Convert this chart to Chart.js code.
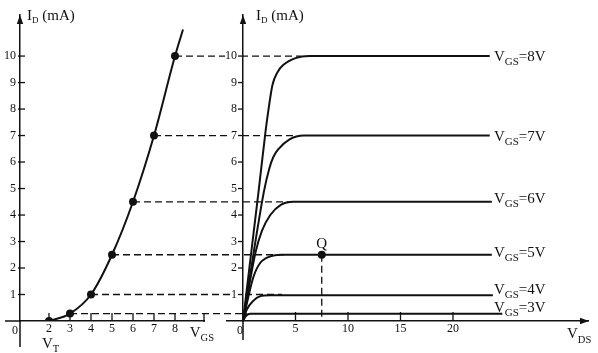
<!DOCTYPE html>
<html lang="en">
<head>
  <meta charset="UTF-8">
  <title>MOSFET transfer and output characteristics</title>
  <style>
    * { margin: 0; padding: 0; box-sizing: border-box; }
    body { background: #fff; width: 598px; height: 353px; overflow: hidden; }
    canvas { display: block; }
  </style>
  <script src="https://cdn.jsdelivr.net/npm/chart.js"></script>
</head>
<body>
  <canvas id="chart" width="598" height="353"></canvas>

  <script>
    // left panel: transfer curve I_D(V_GS)
    const vgsTicks = [2, 3, 4, 5, 6, 7, 8];
    const vgsDots = [2, 3, 4, 5, 6, 7, 8];
    const idDots = [0, 0.28, 1, 2.5, 4.5, 7, 10];
    const vgsCurve = [2, 3, 4, 5, 6, 7, 8, 8.38];
    const idCurve = [0, 0.28, 1, 2.5, 4.5, 7, 10, 11];

    // right panel: output curves I_D(V_DS)
    const vdsTicks = [0, 5, 10, 15, 20];
    const idTicks = [1, 2, 3, 4, 5, 6, 7, 8, 9, 10];
    const curveLabels = ["8V", "7V", "6V", "5V", "4V", "3V"];
    const vds8 = [0, 1.5, 2.1, 2.4, 2.8, 3.3, 3.8, 5.0, 6.3, 23.5];
    const id8 = [0, 4.95, 7, 7.9, 8.9, 9.4, 9.65, 9.92, 10, 10];
    const vds7 = [0, 2.0, 2.5, 2.9, 3.4, 4.4, 5.8, 23.5];
    const id7 = [0, 4.9, 5.75, 6.2, 6.5, 6.85, 7, 7];
    const vds6 = [0, 1.2, 1.8, 2.6, 3.6, 4.8, 23.7];
    const id6 = [0, 2.6, 3.4, 4.0, 4.38, 4.5, 4.5];
    const vds5 = [0, 0.5, 1.0, 1.6, 2.6, 3.6, 23.7];
    const id5 = [0, 0.9, 1.67, 2.17, 2.44, 2.5, 2.5];
    const vds4 = [0, 0.35, 1.0, 1.6, 2.6, 23.8];
    const id4 = [0, 0.42, 0.77, 0.93, 0.97, 0.97];
    const vds3 = [0, 0.3, 0.7, 24.7];
    const id3 = [0, 0.2, 0.27, 0.27];

    // where each dashed projection line stops on the right panel (per dot)
    const dashEndVds = [null, 0.4, 3.7, 3.9, 4.6, 5.0, 5.5];
    const qVds = [7.5];
    const qId = [2.5];

    const INK = "#111";
    const SERIF = "'Liberation Serif', 'Times New Roman', serif";
    const labelVds = 23.9;
    const labelDy = [5, 5, 1, 2, -1, -2];

    const pts = (xs, ys) => xs.map((v, i) => ({ x: v, y: ys[i] }));

    function curve(xs, ys, xAxis, yAxis) {
      return {
        data: pts(xs, ys),
        xAxisID: xAxis, yAxisID: yAxis,
        borderColor: INK, borderWidth: 2,
        pointRadius: 0, fill: false,
        cubicInterpolationMode: "monotone"
      };
    }

    const outputSets = [[vds8, id8], [vds7, id7], [vds6, id6], [vds5, id5], [vds4, id4], [vds3, id3]];

    const datasets = [
      curve(vgsCurve, idCurve, "x", "y"),
      {
        data: pts(vgsDots, idDots), xAxisID: "x", yAxisID: "y",
        showLine: false, pointRadius: 4, pointBackgroundColor: INK, pointBorderWidth: 0
      },
      ...outputSets.map(s => curve(s[0], s[1], "x2", "y2")),
      {
        data: [{ x: qVds[0], y: qId[0] }, { x: qVds[0], y: 0 }], xAxisID: "x2", yAxisID: "y2",
        borderColor: INK, borderWidth: 1.3, borderDash: [7, 4], pointRadius: 0
      },
      {
        data: pts(qVds, qId), xAxisID: "x2", yAxisID: "y2",
        showLine: false, pointRadius: 4, pointBackgroundColor: INK, pointBorderWidth: 0
      }
    ];

    // text with a subscript: parts = [[text, size, drop], ...]
    function subText(ctx, x, y, parts) {
      for (const [t, size, drop] of parts) {
        ctx.font = size + "px " + SERIF;
        ctx.fillText(t, x, y + drop);
        x += ctx.measureText(t).width;
      }
    }

    function line(ctx, x1, y1, x2, y2) {
      ctx.beginPath();
      ctx.moveTo(x1, y1);
      ctx.lineTo(x2, y2);
      ctx.stroke();
    }

    function arrow(ctx, tx, ty, dir) {
      ctx.beginPath();
      if (dir === "up") {
        ctx.moveTo(tx, ty); ctx.lineTo(tx - 3.2, ty + 9); ctx.lineTo(tx + 3.2, ty + 9);
      } else {
        ctx.moveTo(tx, ty); ctx.lineTo(tx - 9, ty - 3.2); ctx.lineTo(tx - 9, ty + 3.2);
      }
      ctx.closePath();
      ctx.fill();
    }

    const decor = {
      id: "decor",
      beforeDatasetsDraw(chart) {
        const { ctx, scales: { x, x2, y } } = chart;
        ctx.save();
        ctx.strokeStyle = INK;
        ctx.lineWidth = 1.3;
        ctx.setLineDash([7, 4]);
        vgsDots.forEach((v, i) => {
          if (dashEndVds[i] === null) return;
          const py = y.getPixelForValue(idDots[i]);
          line(ctx, x.getPixelForValue(v), py, x2.getPixelForValue(dashEndVds[i]), py);
        });
        ctx.restore();
      },
      afterDraw(chart) {
        const { ctx, chartArea: a, scales: { x, x2, y } } = chart;
        const ax2 = x2.getPixelForValue(0);
        const bottom = a.bottom;
        ctx.save();
        ctx.strokeStyle = INK;
        ctx.fillStyle = INK;
        ctx.lineWidth = 1.5;

        // axis stubs past the origin
        line(ctx, x.left - 15, bottom, x.left, bottom);
        line(ctx, x.left, bottom, x.left, bottom + 26);
        line(ctx, ax2, bottom, ax2, bottom + 19);

        // inward tick marks
        ctx.lineWidth = 1.3;
        vgsTicks.forEach(v => { const px = x.getPixelForValue(v); line(ctx, px, bottom, px, bottom - 8); });
        line(ctx, x.right, bottom + 1, x.right, bottom - 8);
        vdsTicks.forEach(v => { if (v === 0) return; const px = x2.getPixelForValue(v); line(ctx, px, bottom, px, bottom - 9); });
        idTicks.forEach(v => {
          const py = y.getPixelForValue(v);
          line(ctx, x.left - 2, py, x.left + 5, py);
          line(ctx, ax2 - 5, py, ax2, py);
        });

        // arrows
        arrow(ctx, x.left, a.top, "up");
        arrow(ctx, ax2, a.top, "up");
        arrow(ctx, a.right + 1, bottom, "right");

        // axis titles
        ctx.textBaseline = "alphabetic";
        ctx.textAlign = "left";
        subText(ctx, x.left + 7, 20, [["I", 15, 0], ["D", 9, 3], [" (mA)", 15, 0]]);
        subText(ctx, ax2 + 13, 20, [["I", 15, 0], ["D", 9, 3], [" (mA)", 15, 0]]);
        subText(ctx, x.getPixelForValue(8.7), 337, [["V", 15, 0], ["GS", 10.5, 4]]);
        subText(ctx, x.getPixelForValue(2) - 7, 348, [["V", 15, 0], ["T", 10.5, 4]]);
        subText(ctx, a.right - 21, 338, [["V", 15, 0], ["DS", 10.5, 5]]);

        // origin labels
        ctx.font = "12px " + SERIF;
        ctx.textAlign = "center";
        ctx.fillText("0", x.left - 5, bottom + 13);
        ctx.fillText("0", ax2 - 3, bottom + 13);

        // curve labels
        ctx.textAlign = "left";
        curveLabels.forEach((t, i) => {
          const last = outputSets[i][1][outputSets[i][1].length - 1];
          const py = y.getPixelForValue(last) + labelDy[i];
          subText(ctx, x2.getPixelForValue(labelVds), py, [["V", 15, 0], ["GS", 11, 4], ["=" + t, 15, 0]]);
        });

        // operating point
        ctx.font = "15px " + SERIF;
        ctx.textAlign = "center";
        ctx.fillText("Q", x2.getPixelForValue(qVds[0]), y.getPixelForValue(qId[0]) - 7);
        ctx.restore();
      }
    };

    const tickFont = { family: SERIF, size: 12 };
    const border = { display: true, color: INK, width: 1.5 };

    new Chart(document.getElementById("chart"), {
      type: "line",
      data: { datasets: datasets },
      plugins: [decor],
      options: {
        responsive: false,
        animation: false,
        layout: { padding: { top: 15, right: 10, bottom: 0, left: 0 } },
        plugins: { legend: { display: false }, tooltip: { enabled: false } },
        scales: {
          x: {
            type: "linear", position: "bottom", stack: "bottom", stackWeight: 184,
            min: 0.62, max: 9.38,
            afterBuildTicks: s => { s.ticks = vgsTicks.map(v => ({ value: v })); },
            afterFit: s => { s.height = 32; },
            grid: { display: false, drawTicks: false },
            border: border,
            ticks: { font: tickFont, color: INK, padding: 1, autoSkip: false, maxRotation: 0 }
          },
          gap: {
            type: "linear", position: "bottom", stack: "bottom", stackWeight: 23,
            display: false
          },
          x2: {
            type: "linear", position: "bottom", stack: "bottom", stackWeight: 361,
            min: -1.524, max: 32.86,
            afterBuildTicks: s => { s.ticks = vdsTicks.map(v => ({ value: v })); },
            afterFit: s => { s.height = 32; },
            grid: { display: false, drawTicks: false },
            border: border,
            ticks: {
              font: tickFont, color: INK, padding: 1, autoSkip: false, maxRotation: 0,
              callback: v => (v === 0 ? "" : String(v))
            }
          },
          y: {
            type: "linear", position: "left", min: 0, max: 11.55,
            afterBuildTicks: s => { s.ticks = idTicks.map(v => ({ value: v })); },
            afterFit: s => { s.width = 20; },
            grid: { display: false, drawTicks: false },
            border: border,
            ticks: { font: tickFont, color: INK, padding: 4 }
          },
          y2: {
            type: "linear", position: { x2: 0 }, min: 0, max: 11.55,
            afterBuildTicks: s => { s.ticks = idTicks.map(v => ({ value: v })); },
            grid: { display: false, drawTicks: false },
            border: { display: true, color: INK, width: 1.5, z: 2 },
            ticks: {
              font: tickFont, color: INK, z: 1,
              // an en space keeps the number clear of the axis line
              callback: v => v + "\u2002",
              showLabelBackdrop: true, backdropColor: "#fff", backdropPadding: 0
            }
          }
        }
      }
    });
  </script>
</body>
</html>
